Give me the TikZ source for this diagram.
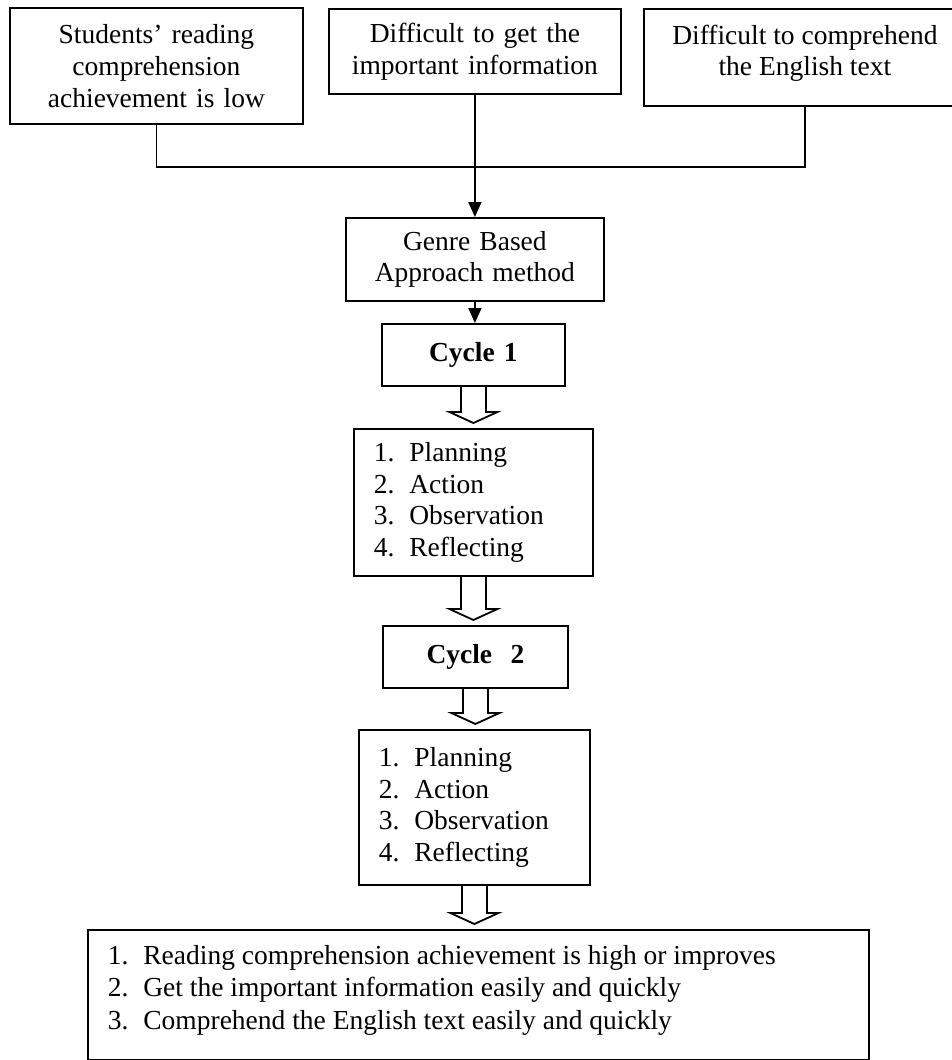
\documentclass[tikz,border=0pt]{standalone}
\usepackage{fontspec}
\setmainfont{Liberation Serif}
\usetikzlibrary{arrows.meta,calc}
\newcommand\mytopbox[3]{\begin{minipage}[t][#1][t]{#2}#3\end{minipage}}
\newcommand\itm[1]{\makebox[35.5pt][l]{#1}}
\newcommand\hollowconn[2]{%
  \draw[conn] let \p1=(#1.south), \p2=(#2.north) in
    (\x1-12.5pt,\y1) -- (\x1-12.5pt,\y2+16pt) -- (\x1-24pt,\y2+16pt) --
    (\x1,\y2+5pt) -- (\x1+24pt,\y2+16pt) -- (\x1+12.5pt,\y2+16pt) -- (\x1+12.5pt,\y1);}
\tikzset{
  box/.style={draw, line width=1.8pt, anchor=north west, inner sep=0pt,
    font=\fontsize{27.5}{31.7}\selectfont},
  cbox/.style={box, align=center},
  lbox/.style={box, align=left, inner xsep=20pt},
  conn/.style={line width=1.8pt},
  tip/.style={-{Triangle[length=15pt,width=13pt]}}
}
\begin{document}
\begin{tikzpicture}[x=1pt,y=-1pt]
\useasboundingbox (0,0) rectangle (952,1060);
\fill[white] (0,0) rectangle (952,1060);
% top boxes
\node[cbox, minimum width=293, minimum height=116, text width=273] (b1) at (9,7)
  {Students’ reading\\ comprehension\\ achievement is low};
\node[cbox, minimum width=292, minimum height=85, text width=282] (b2) at (328,8)
  {Difficult to get the\\ important information};
\node[box, inner xsep=5pt, inner ysep=16pt] (b3) at (643,8)
  {\mytopbox{65pt}{312pt}{\centering Difficult to comprehend\\ the English text\par}};
% middle column
\node[cbox, minimum width=258, minimum height=83, text width=248] (genre) at (345,217)
  {Genre Based\\ Approach method};
\node[cbox, minimum width=183, minimum height=62, text width=173, font=\fontsize{27.5}{31.7}\selectfont\bfseries] (c1) at (381,323)
  {Cycle 1};
\node[lbox, minimum width=239, minimum height=147, text width=199] (p1) at (353,428)
  {\itm{1.}Planning\\ \itm{2.}Action\\ \itm{3.}Observation\\ \itm{4.}Reflecting};
\node[cbox, minimum width=185, minimum height=62, text width=175, font=\fontsize{27.5}{31.7}\selectfont\bfseries] (c2) at (382,625)
  {Cycle\ \ 2};
\node[lbox, minimum width=231, minimum height=155, text width=191] (p2) at (358,729)
  {\itm{1.}Planning\\ \itm{2.}Action\\ \itm{3.}Observation\\ \itm{4.}Reflecting};
\node[box, inner xsep=20pt, inner ysep=15.2pt] (res) at (87,929)
  {\mytopbox{100pt}{741pt}{\fontsize{27.5}{32.5}\selectfont
   \itm{1.}Reading comprehension achievement is high or improves\\
   \itm{2.}Get the important information easily and quickly\\
   \itm{3.}Comprehend the English text easily and quickly\par}};
% connectors
\coordinate (bus) at (0,167);
\draw[conn] (b1.south) -- (b1.south |- bus) -- (b3.south |- bus) -- (b3.south);
\draw[conn, tip] (b2.south) -- (genre.north);
\draw[conn, tip] (genre.south) -- (genre.south |- c1.north);
\hollowconn{c1}{p1}
\hollowconn{p1}{c2}
\hollowconn{c2}{p2}
\hollowconn{p2}{res}
\end{tikzpicture}
\end{document}
